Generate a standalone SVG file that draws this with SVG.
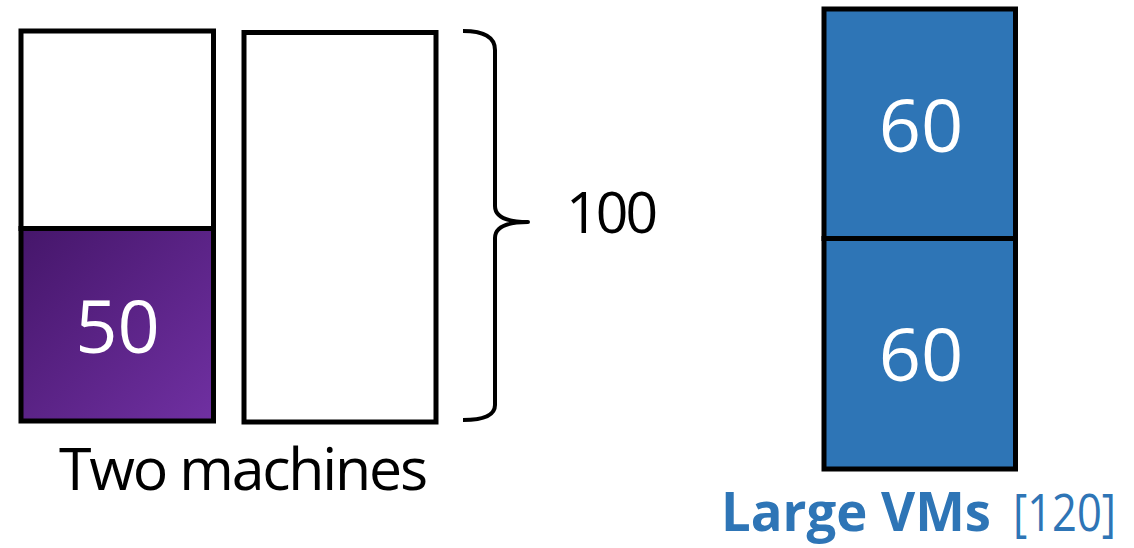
<svg xmlns="http://www.w3.org/2000/svg" width="1134" height="548" viewBox="0 0 1134 548">
  <style>
    .box { stroke: #000; stroke-width: 5; }
    .num { font-family: "Open Sans", "Noto Sans", sans-serif; fill: #fff; text-anchor: middle; font-size: 74px; }
    .label { font-family: "Open Sans", "Noto Sans", sans-serif; fill: #000; }
    .blue { fill: #2E75B6; }
    .brace { fill: none; stroke: #000; stroke-width: 4; stroke-linecap: butt; stroke-linejoin: round; }
  </style>
  <defs>
    <linearGradient id="purpleFill" x1="0" y1="0" x2="1" y2="1">
      <stop offset="0" stop-color="#45166A"/>
      <stop offset="1" stop-color="#7030A2"/>
    </linearGradient>
  </defs>

  <rect width="1134" height="548" fill="#fff"/>

  <!-- machine 1: half used by a 50-unit VM -->
  <g id="machine1">
    <rect x="21" y="31" width="192.5" height="197.5" fill="#fff" class="box"/>
    <rect x="21" y="228.5" width="192.5" height="192.5" fill="url(#purpleFill)" class="box"/>
    <text x="117.5" y="353" class="num">50</text>
  </g>

  <!-- machine 2: empty -->
  <g id="machine2">
    <rect x="244" y="32.5" width="192" height="389.5" fill="#fff" class="box"/>
  </g>

  <!-- capacity brace -->
  <g id="capacity">
    <path class="brace" d="M463,31 C486,31 495,38 495,50 L495,206 C495,216 505,222 528,222 C505,222 495,228 495,238 L495,405 C495,414 486,420 463,420"/>
    <text x="566" y="233" class="label" font-size="57" textLength="92">100</text>
  </g>

  <g id="caption-machines">
    <text x="59" y="490" class="label" font-size="59" textLength="369">Two machines</text>
  </g>

  <!-- two large VMs stacked -->
  <g id="vm-top">
    <rect x="824" y="9" width="191.5" height="229.5" class="box blue"/>
    <text x="921" y="152" class="num">60</text>
  </g>
  <g id="vm-bottom">
    <rect x="824" y="238.5" width="191.5" height="230.5" class="box blue"/>
    <text x="921" y="381" class="num">60</text>
  </g>

  <g id="caption-vms">
    <text x="721" y="531" class="label blue" font-size="53" font-weight="bold" textLength="270" lengthAdjust="spacingAndGlyphs">Large VMs</text>
    <text x="1013" y="531" class="label blue" font-size="51" textLength="103" lengthAdjust="spacingAndGlyphs">[120]</text>
  </g>
</svg>
